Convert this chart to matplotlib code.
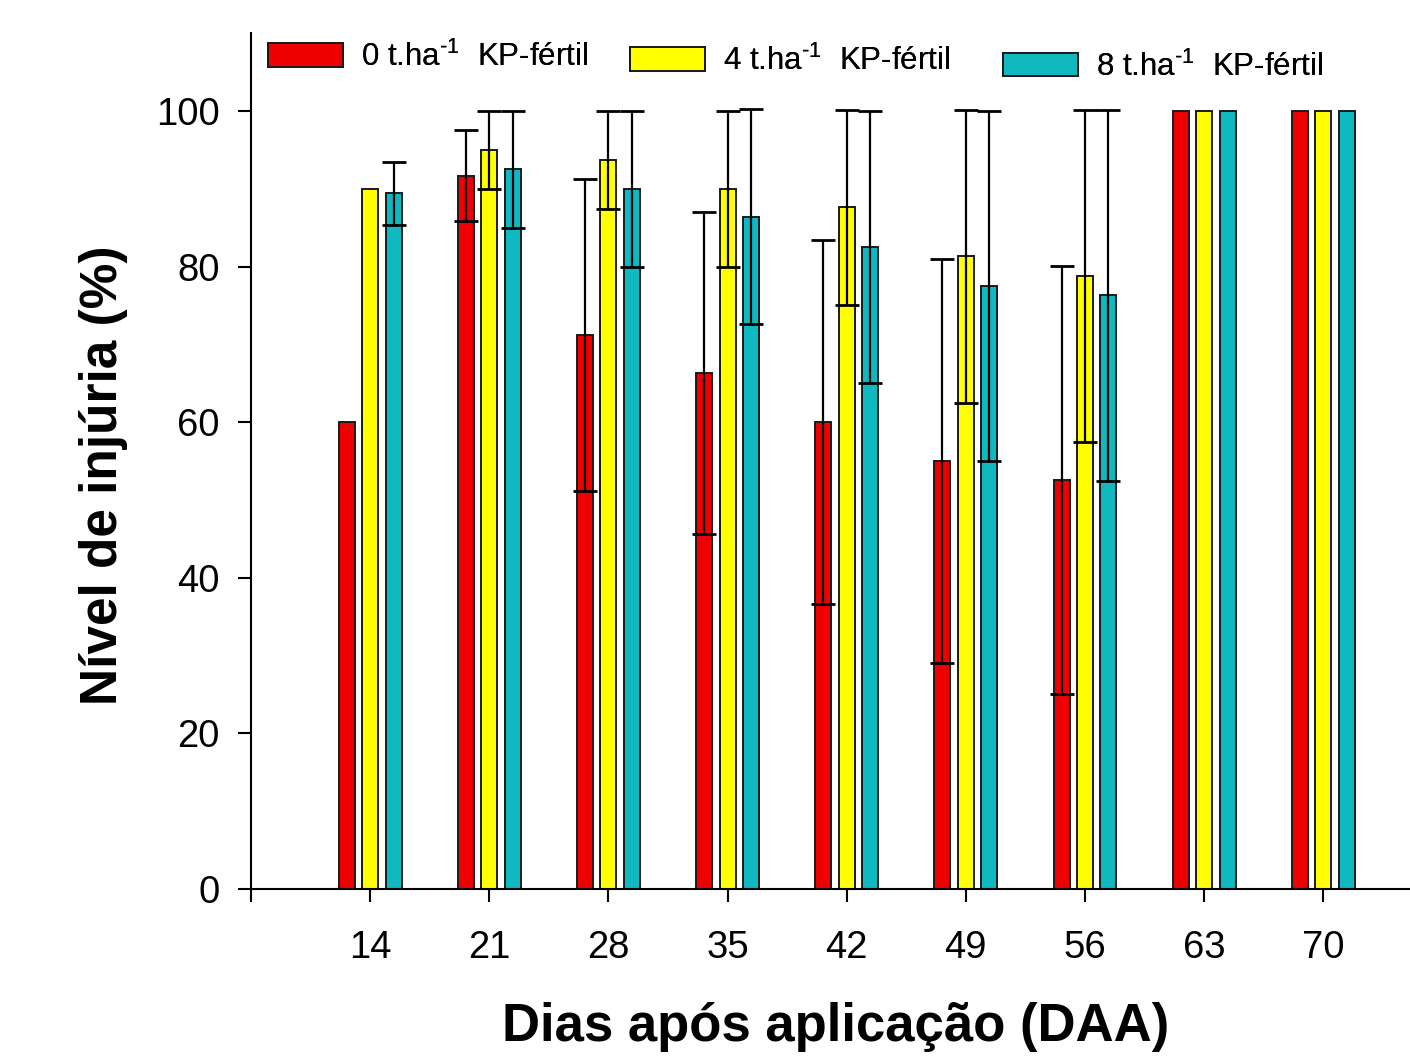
import matplotlib
matplotlib.use("Agg")
import matplotlib.pyplot as plt
import numpy as np
from matplotlib.patches import Patch

days = [14, 21, 28, 35, 42, 49, 56, 63, 70]
labels = [r"0 t.ha$^{\text{-1}}$  KP-fértil", r"4 t.ha$^{\text{-1}}$  KP-fértil", r"8 t.ha$^{\text{-1}}$  KP-fértil"]
kp0 = [60.0, 91.7, 71.2, 66.3, 60.0, 55.0, 52.6, 100, 100]
kp4 = [90.0, 95.0, 93.7, 90.0, 87.6, 81.3, 78.8, 100, 100]
kp8 = [89.4, 92.5, 90.0, 86.4, 82.5, 77.5, 76.3, 100, 100]
err0 = [np.nan, 5.9, 20.0, 20.7, 23.4, 26.0, 27.5, np.nan, np.nan]
err4 = [np.nan, 5.0, 6.3, 10.0, 12.5, 18.8, 21.3, np.nan, np.nan]
err8 = [4.0, 7.5, 10.0, 13.8, 17.5, 22.5, 23.8, np.nan, np.nan]
xticks = [7, 14, 21, 28, 35, 42, 49, 56, 63, 70, 77]
xticklabels = ["", "14", "21", "28", "35", "42", "49", "56", "63", "70", ""]
yticks = [0, 20, 40, 60, 80, 100]

colors = ["#EE0000", "#FFFF00", "#10B8C0"]
edge = "#1a1a1a"

plt.rcParams['font.family'] = ['Liberation Sans', 'DejaVu Sans']
plt.rcParams['mathtext.fontset'] = 'custom'
plt.rcParams['mathtext.rm'] = 'Liberation Sans'

fig = plt.figure(figsize=(14.1, 10.58), dpi=100)
ax = fig.add_axes([0.178, 0.1597, 0.845, 0.809])

width = 0.94
offset = 1.38
x = np.array(days, dtype=float)
series = [kp0, kp4, kp8]
errs = [err0, err4, err8]
for i, (vals, er, c) in enumerate(zip(series, errs, colors)):
    xp = x + (i - 1) * offset
    ax.bar(xp, vals, width=width, color=c, edgecolor=edge, linewidth=1.4, zorder=2)
    er = np.array(er)
    m = ~np.isnan(er)
    ax.errorbar(xp[m], np.array(vals)[m], yerr=er[m], fmt='none', ecolor='black',
                elinewidth=1.6, capsize=8.3, capthick=2.0, zorder=3)

ax.set_xlim(7, 77)
ax.set_ylim(0, 110)
ax.set_xticks(xticks)
ax.set_xticklabels(xticklabels)
ax.set_yticks(yticks)
for s in ['top', 'right']:
    ax.spines[s].set_visible(False)
for s in ['left', 'bottom']:
    ax.spines[s].set_linewidth(1.5)
ax.tick_params(axis='both', direction='out', length=9.5, width=1.5, labelsize=27.5)
ax.tick_params(axis='x', pad=20)
ax.tick_params(axis='y', pad=13)

ax.set_xlabel("Dias após aplicação (DAA)", fontsize=38, fontweight='bold', labelpad=26)
ax.set_ylabel("Nível de injúria (%)", fontsize=37, fontweight='bold', labelpad=20)
ax.xaxis.label.set_x(0.491)
ax.yaxis.label.set_y(0.4836)

# legends
legpos = [(0.190, 0.9461), (0.4468, 0.9419), (0.7113, 0.9367)]
for lab, c, pos in zip(labels, colors, legpos):
    lg = fig.legend(handles=[Patch(facecolor=c, edgecolor=edge, linewidth=1.4)], labels=[lab],
                    loc='center left', bbox_to_anchor=pos, frameon=False,
                    fontsize=22.5, handlelength=2.4, handleheight=0.78, handletextpad=0.57,
                    borderpad=0, borderaxespad=0)
    fig.add_artist(lg)

fig.savefig("out.png", dpi=100)
